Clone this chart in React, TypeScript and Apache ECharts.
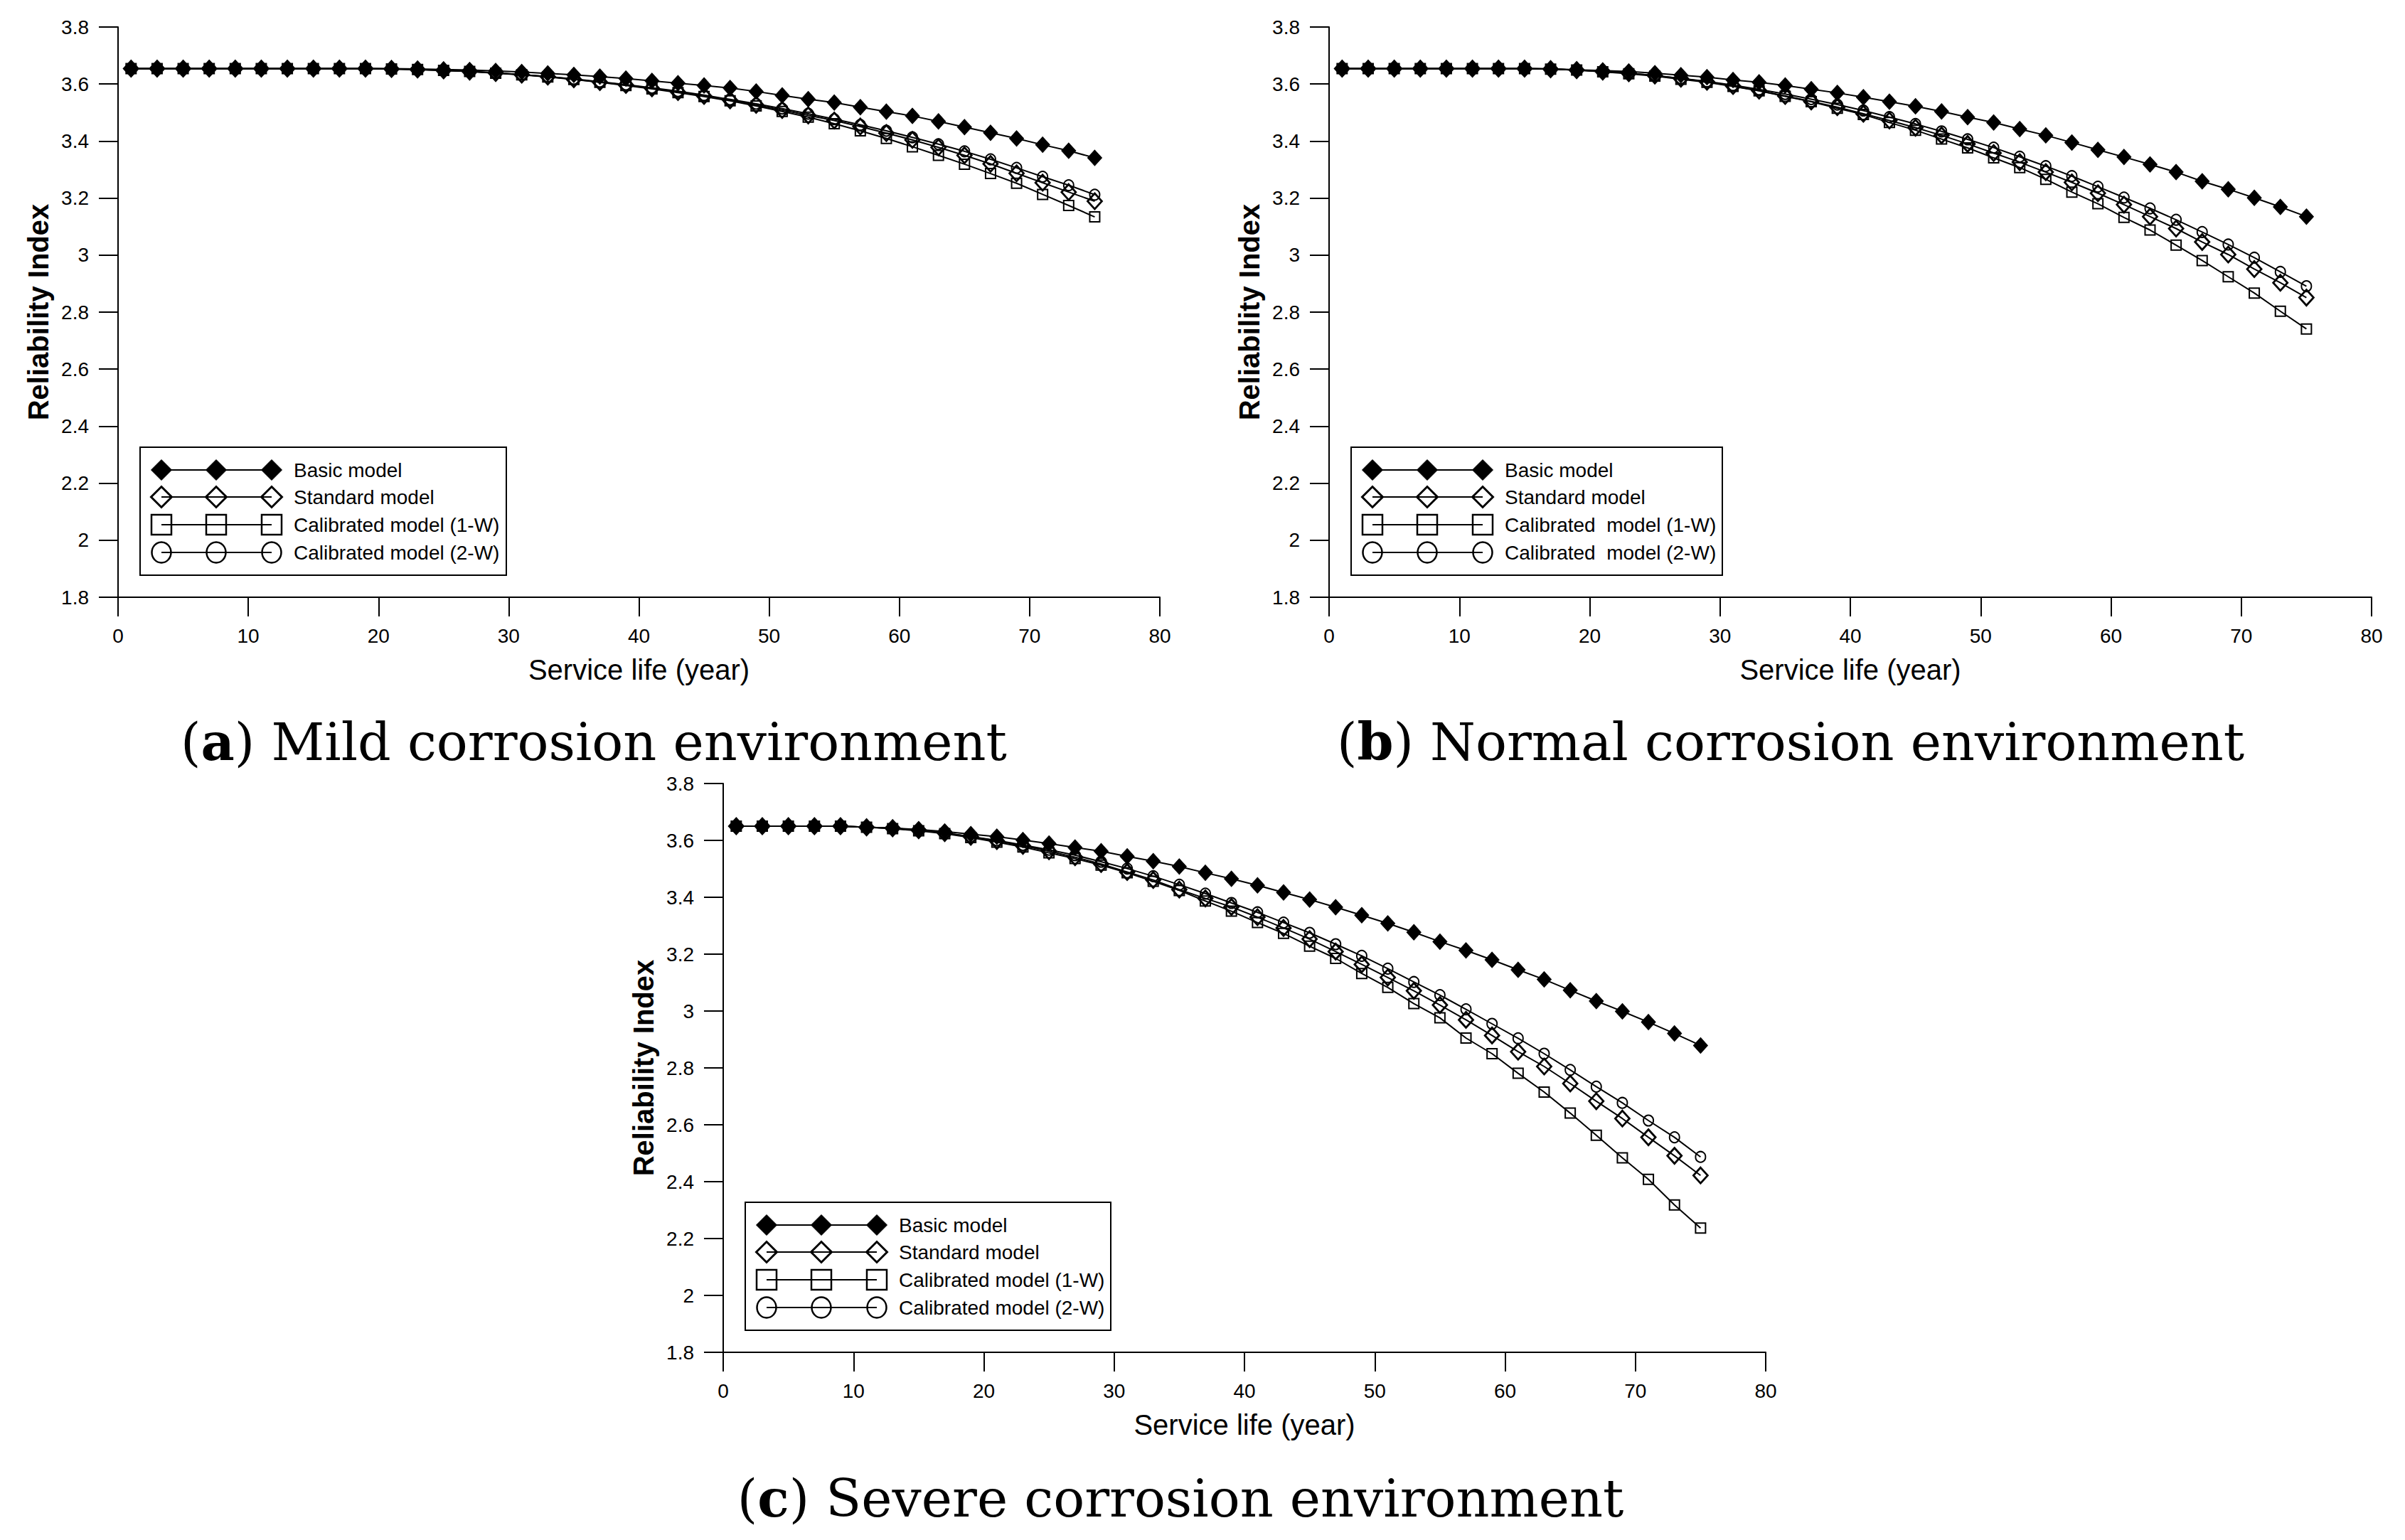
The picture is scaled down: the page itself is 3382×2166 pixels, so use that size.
import React, { useEffect, useRef } from "react";
import * as echarts from "echarts";

// ---------------- DATA ----------------
const years = [1, 3, 5, 7, 9, 11, 13, 15, 17, 19, 21, 23, 25, 27, 29, 31, 33, 35, 37, 39, 41, 43, 45, 47, 49, 51, 53, 55, 57, 59, 61, 63, 65, 67, 69, 71, 73, 75];

// (a) Mild corrosion environment
const basicA = [3.654, 3.654, 3.654, 3.654, 3.654, 3.654, 3.654, 3.654, 3.654, 3.654, 3.654, 3.653, 3.651, 3.649, 3.646, 3.642, 3.637, 3.632, 3.626, 3.619, 3.611, 3.603, 3.595, 3.586, 3.574, 3.56, 3.547, 3.535, 3.519, 3.503, 3.488, 3.469, 3.449, 3.429, 3.409, 3.387, 3.366, 3.341];
const standardA = [3.654, 3.654, 3.654, 3.654, 3.654, 3.654, 3.654, 3.654, 3.654, 3.654, 3.653, 3.651, 3.648, 3.644, 3.639, 3.633, 3.626, 3.617, 3.607, 3.597, 3.585, 3.572, 3.558, 3.543, 3.527, 3.509, 3.49, 3.472, 3.451, 3.428, 3.404, 3.378, 3.35, 3.32, 3.287, 3.254, 3.221, 3.189];
const cal1A = [3.654, 3.654, 3.654, 3.654, 3.654, 3.654, 3.654, 3.654, 3.654, 3.654, 3.653, 3.651, 3.648, 3.644, 3.638, 3.632, 3.625, 3.616, 3.606, 3.595, 3.583, 3.57, 3.556, 3.541, 3.523, 3.504, 3.484, 3.461, 3.436, 3.409, 3.38, 3.35, 3.319, 3.286, 3.252, 3.213, 3.174, 3.134];
const cal2A = [3.654, 3.654, 3.654, 3.654, 3.654, 3.654, 3.654, 3.654, 3.654, 3.654, 3.653, 3.651, 3.648, 3.644, 3.639, 3.633, 3.626, 3.618, 3.608, 3.598, 3.587, 3.575, 3.561, 3.546, 3.531, 3.514, 3.496, 3.477, 3.457, 3.436, 3.413, 3.389, 3.364, 3.336, 3.306, 3.275, 3.245, 3.212];

// (b) Normal corrosion environment
const basicB = [3.654, 3.654, 3.654, 3.654, 3.654, 3.654, 3.654, 3.654, 3.654, 3.65, 3.647, 3.644, 3.638, 3.631, 3.624, 3.614, 3.606, 3.595, 3.582, 3.569, 3.554, 3.538, 3.522, 3.504, 3.484, 3.465, 3.442, 3.42, 3.395, 3.369, 3.344, 3.318, 3.291, 3.259, 3.231, 3.201, 3.169, 3.135];
const standardB = [3.654, 3.654, 3.654, 3.654, 3.654, 3.654, 3.654, 3.654, 3.652, 3.649, 3.644, 3.638, 3.63, 3.619, 3.608, 3.593, 3.577, 3.558, 3.539, 3.519, 3.496, 3.472, 3.447, 3.42, 3.39, 3.358, 3.326, 3.291, 3.255, 3.217, 3.177, 3.135, 3.093, 3.046, 3.002, 2.951, 2.903, 2.851];
const cal1B = [3.654, 3.654, 3.654, 3.654, 3.654, 3.654, 3.654, 3.654, 3.652, 3.649, 3.643, 3.636, 3.628, 3.617, 3.606, 3.592, 3.576, 3.557, 3.538, 3.515, 3.493, 3.465, 3.438, 3.407, 3.376, 3.341, 3.307, 3.266, 3.221, 3.18, 3.132, 3.088, 3.035, 2.981, 2.924, 2.867, 2.803, 2.741];
const cal2B = [3.654, 3.654, 3.654, 3.654, 3.654, 3.654, 3.654, 3.654, 3.652, 3.649, 3.644, 3.638, 3.63, 3.62, 3.609, 3.596, 3.581, 3.565, 3.547, 3.528, 3.507, 3.484, 3.46, 3.434, 3.406, 3.377, 3.345, 3.312, 3.277, 3.24, 3.202, 3.164, 3.124, 3.081, 3.037, 2.991, 2.941, 2.891];

// (c) Severe corrosion environment
const basicC = [3.65, 3.65, 3.65, 3.65, 3.65, 3.646, 3.643, 3.638, 3.631, 3.622, 3.613, 3.601, 3.589, 3.575, 3.562, 3.544, 3.527, 3.508, 3.486, 3.465, 3.442, 3.417, 3.392, 3.365, 3.337, 3.308, 3.277, 3.244, 3.213, 3.18, 3.145, 3.111, 3.073, 3.035, 2.999, 2.961, 2.921, 2.879];
const standardC = [3.65, 3.65, 3.65, 3.65, 3.65, 3.646, 3.643, 3.636, 3.626, 3.613, 3.598, 3.581, 3.562, 3.541, 3.517, 3.489, 3.461, 3.427, 3.396, 3.366, 3.33, 3.292, 3.253, 3.209, 3.164, 3.118, 3.071, 3.021, 2.969, 2.914, 2.857, 2.805, 2.745, 2.683, 2.622, 2.556, 2.491, 2.422];
const cal1C = [3.65, 3.65, 3.65, 3.65, 3.65, 3.646, 3.641, 3.634, 3.624, 3.61, 3.594, 3.577, 3.556, 3.536, 3.513, 3.486, 3.456, 3.424, 3.387, 3.351, 3.311, 3.273, 3.228, 3.185, 3.132, 3.083, 3.026, 2.976, 2.905, 2.85, 2.781, 2.715, 2.641, 2.563, 2.484, 2.408, 2.318, 2.237];
const cal2C = [3.65, 3.65, 3.65, 3.65, 3.65, 3.646, 3.643, 3.636, 3.626, 3.613, 3.6, 3.584, 3.567, 3.548, 3.525, 3.501, 3.474, 3.444, 3.413, 3.38, 3.347, 3.311, 3.275, 3.235, 3.194, 3.149, 3.102, 3.056, 3.006, 2.955, 2.904, 2.85, 2.793, 2.734, 2.677, 2.615, 2.556, 2.487];

const legendLabelsA = ["Basic model", "Standard model", "Calibrated model (1-W)", "Calibrated model (2-W)"];
const legendLabelsB = ["Basic model", "Standard model", "Calibrated  model (1-W)", "Calibrated  model (2-W)"];
const legendLabelsC = ["Basic model", "Standard model", "Calibrated model (1-W)", "Calibrated model (2-W)"];

const captionLetters = ["a", "b", "c"];
const captionTexts = [" Mild corrosion environment", " Normal corrosion environment", " Severe corrosion environment"];

const xAxisTitle = "Service life (year)";
const yAxisTitle = "Reliability Index";

// ---------------- LAYOUT ----------------
const SANS = "'Liberation Sans', Arial, Helvetica, sans-serif";
const SERIF = "'DejaVu Serif', 'Liberation Serif', serif";

const panels = [
  { left: 166, top: 38, width: 1465, height: 802, legendW: 515, capX: 835, capY: 1043, data: [basicA, standardA, cal1A, cal2A], labels: legendLabelsA },
  { left: 1869, top: 38, width: 1466, height: 802, legendW: 522, capX: 2518, capY: 1043, data: [basicB, standardB, cal1B, cal2B], labels: legendLabelsB },
  { left: 1017, top: 1102, width: 1466, height: 800, legendW: 514, capX: 1660, capY: 2107, data: [basicC, standardC, cal1C, cal2C], labels: legendLabelsC },
];

const kinds = [
  { symbol: "diamond", size: [20, 22], fill: "#000", bw: 1 },
  { symbol: "diamond", size: [20, 22], fill: "transparent", bw: 2.8 },
  { symbol: "rect", size: [14, 14], fill: "transparent", bw: 2 },
  { symbol: "circle", size: [14, 15], fill: "transparent", bw: 2 },
];

function buildOption() {
  const grid: any[] = [];
  const xAxis: any[] = [];
  const yAxis: any[] = [];
  const series: any[] = [];
  const graphic: any[] = [];

  panels.forEach((p, pi) => {
    grid.push({ left: p.left, top: p.top, width: p.width, height: p.height, containLabel: false });
    xAxis.push({
      gridIndex: pi,
      type: "value",
      min: 0,
      max: 80,
      interval: 10,
      name: xAxisTitle,
      nameLocation: "middle",
      nameGap: 82,
      nameTextStyle: { fontSize: 40, color: "#000", fontFamily: SANS },
      axisLine: { show: true, onZero: false, lineStyle: { color: "#000", width: 2 } },
      axisTick: { show: true, inside: false, length: 27, lineStyle: { color: "#000", width: 2 } },
      axisLabel: { show: true, fontSize: 28, color: "#000", fontFamily: SANS, margin: 40 },
      splitLine: { show: false },
    });
    yAxis.push({
      gridIndex: pi,
      type: "value",
      min: 1.8,
      max: 3.8,
      interval: 0.2,
      name: yAxisTitle,
      nameLocation: "middle",
      nameRotate: 90,
      nameGap: 92,
      nameTextStyle: { fontSize: 40, fontWeight: "bold", color: "#000", fontFamily: SANS },
      axisLine: { show: true, onZero: false, lineStyle: { color: "#000", width: 2 } },
      axisTick: { show: true, inside: false, length: 27, lineStyle: { color: "#000", width: 2 } },
      axisLabel: { show: true, fontSize: 28, color: "#000", fontFamily: SANS, margin: 41 },
      splitLine: { show: false },
    });

    // draw order: cal1, cal2, standard, basic (basic on top)
    [2, 3, 1, 0].forEach((k) => {
      const kd = kinds[k];
      series.push({
        type: "line",
        name: p.labels[k],
        xAxisIndex: pi,
        yAxisIndex: pi,
        data: years.map((x, i) => [x, p.data[k][i]]),
        symbol: kd.symbol,
        symbolSize: kd.size,
        showSymbol: true,
        itemStyle: { color: kd.fill, borderColor: "#000", borderWidth: kd.bw },
        lineStyle: { color: "#000", width: 2 },
        emphasis: { disabled: true },
        silent: true,
      });
    });

    // legend box (drawn manually: three markers per row)
    const L = p.left + 31;
    const T = p.top + p.height - 31 - 180;
    graphic.push({
      type: "rect",
      shape: { x: L, y: T, width: p.legendW, height: 180 },
      style: { fill: "none", stroke: "#000", lineWidth: 2 },
    });
    const rows = [32, 70, 109, 148];
    const mx = [30, 107, 185];
    rows.forEach((ry, r) => {
      const cy = T + ry;
      graphic.push({
        type: "line",
        shape: { x1: L + mx[0], y1: cy, x2: L + mx[2], y2: cy },
        style: { stroke: "#000", lineWidth: 2 },
      });
      mx.forEach((ox) => {
        const cx = L + ox;
        if (r === 0 || r === 1) {
          const h = 14.5;
          graphic.push({
            type: "polygon",
            shape: { points: [[cx, cy - h], [cx + h, cy], [cx, cy + h], [cx - h, cy]] },
            style: r === 0 ? { fill: "#000", stroke: "#000", lineWidth: 1 } : { fill: "none", stroke: "#000", lineWidth: 3 },
          });
        } else if (r === 2) {
          graphic.push({
            type: "rect",
            shape: { x: cx - 14, y: cy - 14, width: 28, height: 28 },
            style: { fill: "none", stroke: "#000", lineWidth: 2.5 },
          });
        } else {
          graphic.push({
            type: "ellipse",
            shape: { cx: cx, cy: cy, rx: 13.5, ry: 14.5 },
            style: { fill: "none", stroke: "#000", lineWidth: 2.5 },
          });
        }
      });
      graphic.push({
        type: "text",
        x: L + 216,
        y: cy,
        style: {
          text: p.labels[r],
          fontSize: 28,
          fontFamily: SANS,
          fill: "#000",
          verticalAlign: "middle",
          textVerticalAlign: "middle",
          align: "left",
          textAlign: "left",
        },
      });
    });

    // caption
    graphic.push({
      type: "text",
      x: p.capX,
      y: p.capY,
      style: {
        text: "({b|" + captionLetters[pi] + "})" + captionTexts[pi],
        fontSize: 73,
        fontFamily: SERIF,
        fill: "#000",
        align: "center",
        textAlign: "center",
        verticalAlign: "middle",
        textVerticalAlign: "middle",
        rich: { b: { fontSize: 73, fontWeight: "bold", fontFamily: SERIF, fill: "#000", color: "#000" } },
      },
    });
  });

  return {
    animation: false,
    backgroundColor: "#fff",
    grid,
    xAxis,
    yAxis,
    series,
    graphic,
  };
}

export default function App() {
  const ref = useRef<HTMLDivElement | null>(null);
  useEffect(() => {
    if (!ref.current) return;
    const chart = echarts.init(ref.current, null, { renderer: "svg" });
    chart.setOption(buildOption() as any);
    return () => {
      chart.dispose();
    };
  }, []);
  return (
    <div
      ref={ref}
      style={{ position: "fixed", left: 0, top: 0, width: 3382, height: 2166, background: "#fff" }}
    />
  );
}
